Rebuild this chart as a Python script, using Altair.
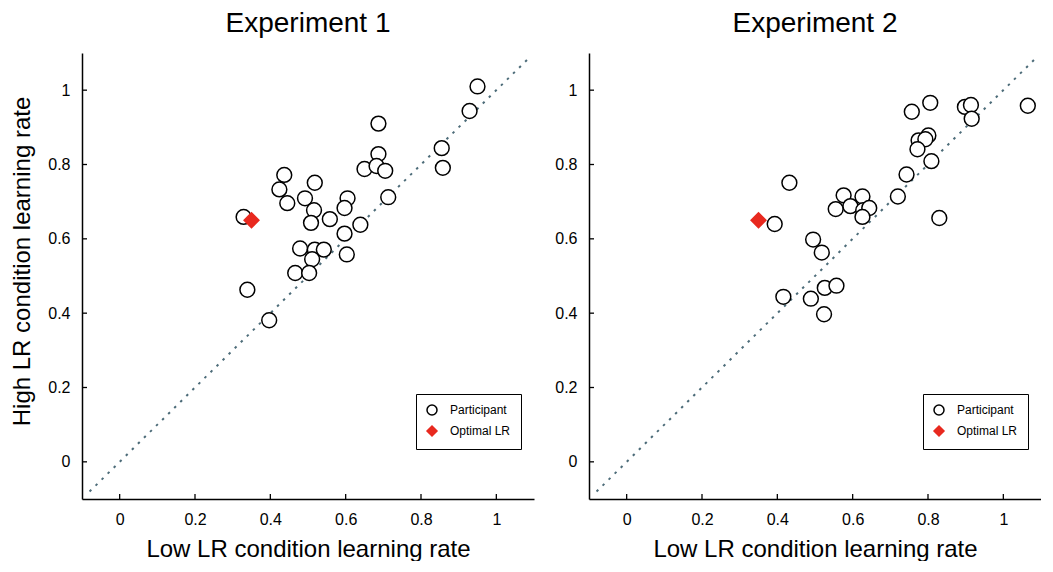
import altair as alt
import pandas as pd

# ---- data ----
e1_low = [0.950, 0.929, 0.687, 0.855, 0.858, 0.687, 0.650, 0.682, 0.705, 0.713,
          0.437, 0.424, 0.445, 0.518, 0.492, 0.516, 0.508, 0.558, 0.605, 0.597,
          0.639, 0.597, 0.603, 0.479, 0.518, 0.542, 0.511, 0.466, 0.503, 0.339,
          0.397, 0.329]
e1_high = [1.010, 0.944, 0.910, 0.844, 0.791, 0.828, 0.788, 0.796, 0.783, 0.712,
           0.772, 0.733, 0.696, 0.751, 0.709, 0.677, 0.643, 0.653, 0.709, 0.683,
           0.638, 0.614, 0.558, 0.574, 0.571, 0.571, 0.545, 0.508, 0.508, 0.463,
           0.381, 0.659]

e2_low = [1.065, 0.806, 0.757, 0.898, 0.914, 0.916, 0.775, 0.801, 0.793, 0.772,
          0.809, 0.743, 0.720, 0.830, 0.432, 0.576, 0.626, 0.555, 0.594, 0.628,
          0.644, 0.626, 0.393, 0.495, 0.518, 0.416, 0.489, 0.526, 0.557, 0.524]
e2_high = [0.958, 0.966, 0.942, 0.955, 0.960, 0.923, 0.865, 0.878, 0.868, 0.841,
           0.809, 0.773, 0.714, 0.656, 0.751, 0.717, 0.714, 0.680, 0.688, 0.677,
           0.683, 0.659, 0.640, 0.598, 0.563, 0.444, 0.439, 0.468, 0.474, 0.397]

optimal_low = 0.35
optimal_high = 0.65

tick_values = [0, 0.2, 0.4, 0.6, 0.8, 1]
diagonal = [-0.08, 1.09]
kinds = ["Participant", "Optimal LR"]

FONT = "Liberation Sans"
W, H = 452, 446
RED = "#e8291f"


def panel(title, lows, highs, y_title):
    pts = pd.DataFrame({
        "low": lows + [optimal_low],
        "high": highs + [optimal_high],
        "kind": ["Participant"] * len(lows) + ["Optimal LR"],
        "ord": [0] * len(lows) + [1],
    })
    diag = pd.DataFrame({"low": diagonal, "high": diagonal})
    xt = pd.DataFrame({"low": tick_values})
    yt = pd.DataFrame({"high": tick_values})

    xs = alt.Scale(domain=[-0.1, 1.1], nice=False, zero=False)
    ys = alt.Scale(domain=[-0.1, 1.1], nice=False, zero=False)
    xa = alt.Axis(values=tick_values, format="~g", title="Low LR condition learning rate",
                  ticks=False, labelPadding=12, titlePadding=10, grid=False)
    if y_title:
        ya = alt.Axis(values=tick_values, format="~g", title=y_title, titleY=208,
                      ticks=False, labelPadding=12, titlePadding=13, grid=False)
    else:
        ya = alt.Axis(values=tick_values, format="~g", title=None,
                      ticks=False, labelPadding=12, grid=False)
    X = alt.X("low:Q", scale=xs, axis=xa)
    Y = alt.Y("high:Q", scale=ys, axis=ya)

    line = alt.Chart(diag).mark_line(strokeDash=[2.5, 6], color="#4d6c79",
                                     strokeWidth=2, clip=True).encode(x=X, y=Y)
    xticks = alt.Chart(xt).mark_rule(color="black", strokeWidth=1.3).encode(
        x=X, y=alt.value(H), y2=alt.value(H - 5))
    yticks = alt.Chart(yt).mark_rule(color="black", strokeWidth=1.3).encode(
        y=Y, x=alt.value(0), x2=alt.value(5))

    leg = alt.Legend(title=None, orient="none", legendX=334, legendY=341,
                     strokeColor="black", padding=10,
                     symbolSize=100, symbolStrokeWidth=1.5, labelFontSize=12,
                     labelFont=FONT, labelOffset=12, rowPadding=5)
    points = alt.Chart(pts).mark_point(filled=True, opacity=1, strokeWidth=1.5, size=220).encode(
        x=X, y=Y,
        shape=alt.Shape("kind:N", scale=alt.Scale(domain=kinds, range=["circle", "diamond"]), legend=leg),
        fill=alt.Fill("kind:N", scale=alt.Scale(domain=kinds, range=["white", RED]), legend=leg),
        stroke=alt.Stroke("kind:N", scale=alt.Scale(domain=kinds, range=["black", RED]), legend=leg),
        order=alt.Order("ord:Q"),
    )
    return alt.layer(line, xticks, yticks, points).properties(
        width=W, height=H,
        title=alt.Title(title, fontSize=28, font=FONT, fontWeight="normal",
                        color="black", offset=15),
    )


left = panel("Experiment 1", e1_low, e1_high, "High LR condition learning rate")
right = panel("Experiment 2", e2_low, e2_high, None)

chart = alt.hconcat(left, right, spacing=20).resolve_scale(
    shape="independent", fill="independent", stroke="independent"
).resolve_legend(
    shape="independent", fill="independent", stroke="independent"
).properties(
    padding={"left": 2, "top": 2, "right": 0, "bottom": 0}
).configure_view(stroke=None).configure_axis(
    labelFont=FONT, labelFontSize=16, labelColor="black",
    titleFont=FONT, titleFontSize=24, titleColor="black", titleFontWeight="normal",
    domainColor="black", domainWidth=1.5,
)

chart.save("out.html", embed_options={"renderer": "svg", "actions": False})
